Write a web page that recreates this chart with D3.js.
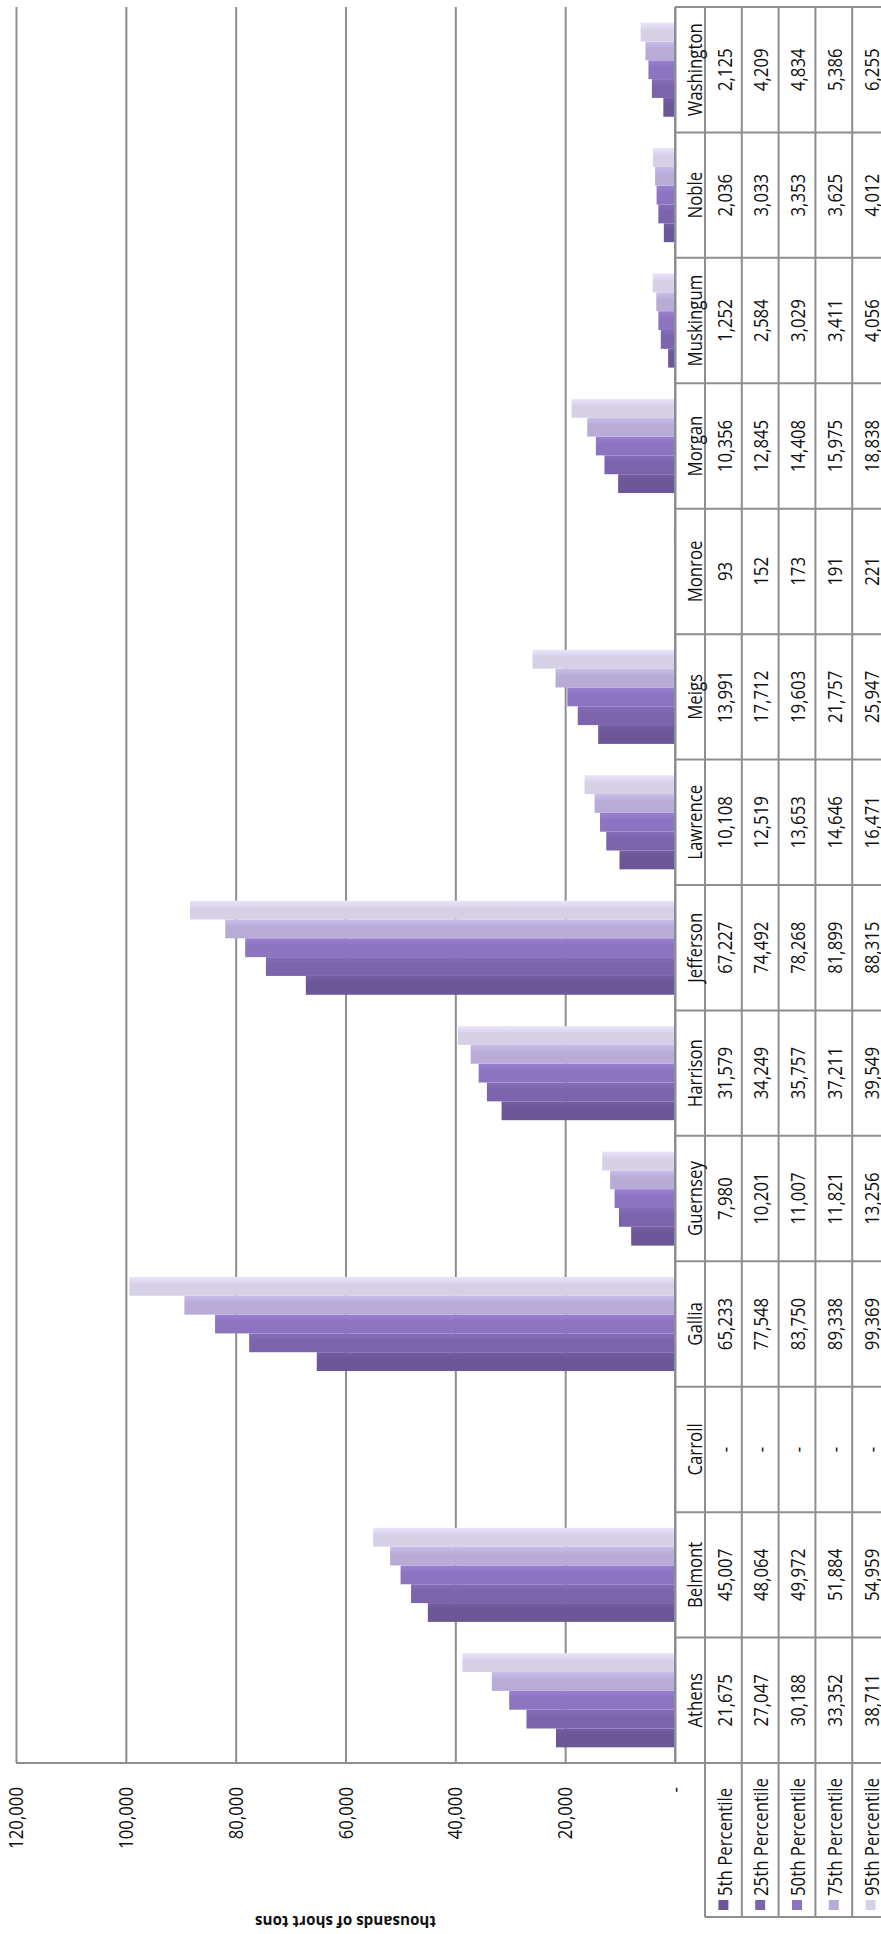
<!DOCTYPE html>
<html>
<head>
<meta charset="utf-8">
<script src="https://cdn.jsdelivr.net/npm/d3@7"></script>
<style>
  body { margin: 0; background: #fff; }
  svg { display: block; }
</style>
</head>
<body>
<div id="chart"></div>
<script>
// County coal estimates, thousands of short tons
const categories = ['Athens', 'Belmont', 'Carroll', 'Gallia', 'Guernsey', 'Harrison', 'Jefferson',
  'Lawrence', 'Meigs', 'Monroe', 'Morgan', 'Muskingum', 'Noble', 'Washington'];
const seriesNames = ['5th Percentile', '25th Percentile', '50th Percentile', '75th Percentile', '95th Percentile'];

const p5  = [21675, 45007, null, 65233, 7980, 31579, 67227, 10108, 13991, 93, 10356, 1252, 2036, 2125];
const p25 = [27047, 48064, null, 77548, 10201, 34249, 74492, 12519, 17712, 152, 12845, 2584, 3033, 4209];
const p50 = [30188, 49972, null, 83750, 11007, 35757, 78268, 13653, 19603, 173, 14408, 3029, 3353, 4834];
const p75 = [33352, 51884, null, 89338, 11821, 37211, 81899, 14646, 21757, 191, 15975, 3411, 3625, 5386];
const p95 = [38711, 54959, null, 99369, 13256, 39549, 88315, 16471, 25947, 221, 18838, 4056, 4012, 6255];
const seriesValues = [p5, p25, p50, p75, p95];

const yTickValues = [0, 20000, 40000, 60000, 80000, 100000, 120000];
const axisTitle = 'thousands of short tons';

const seriesColors = ['#6b5697', '#7b64ab', '#8c74c1', '#b8acd7', '#d6d0e7'];
const gridColor = '#8e8e8e';
const font = "'Open Sans', sans-serif";
const textColor = '#111';
const textSize = 16.8;
const stretch = 'scale(1,1.22)'; // the source picture has tall-looking type

// The chart is laid out landscape, then turned a quarter turn counter-clockwise
const pageW = 881, pageH = 1934;

const svg = d3.select('#chart').append('svg')
  .attr('width', pageW)
  .attr('height', pageH);

const g = svg.append('g')
  .attr('transform', `translate(0,${pageH}) rotate(-90)`)
  .attr('font-family', font);

const plot = { left: 171, right: 1927, top: 16, bottom: 675 };

const x = d3.scaleBand()
  .domain(categories)
  .range([plot.left, plot.right]);

const xs = d3.scaleBand()
  .domain(seriesNames)
  .range([x.bandwidth() * 0.125, x.bandwidth() * 0.875]);

const y = d3.scaleLinear()
  .domain([0, 120000])
  .range([plot.bottom, plot.top]);

// gradients for the bars
const defs = svg.append('defs');
seriesColors.forEach((c, i) => {
  const grad = defs.append('linearGradient')
    .attr('id', 'grad' + i)
    .attr('x1', 0).attr('x2', 1).attr('y1', 0).attr('y2', 0);
  grad.append('stop').attr('offset', 0).attr('stop-color', c);
  grad.append('stop').attr('offset', 0.6).attr('stop-color', c);
  grad.append('stop').attr('offset', 1).attr('stop-color', d3.color(c).brighter(0.25));
});

// value axis + gridlines
const yAxis = d3.axisLeft(y)
  .tickValues(yTickValues)
  .tickSizeInner(-(plot.right - plot.left))
  .tickSizeOuter(0)
  .tickPadding(24)
  .tickFormat(d => d === 0 ? '-' : d3.format(',')(d));

g.append('g')
  .attr('transform', `translate(${plot.left},0)`)
  .call(yAxis)
  .call(a => {
    a.attr('font-family', font).attr('font-size', textSize);
    a.select('.domain').remove();
    a.selectAll('line').attr('stroke', gridColor).attr('stroke-width', 2);
    a.selectAll('text').attr('fill', textColor).attr('transform', stretch);
  });

// axis title
g.append('text')
  .attr('transform', `translate(12,${(plot.top + plot.bottom) / 2}) rotate(-90)`)
  .attr('text-anchor', 'middle')
  .attr('dominant-baseline', 'central')
  .attr('font-size', 15.2)
  .attr('font-weight', 'bold')
  .attr('fill', textColor)
  .text(axisTitle);

// bars
const barData = [];
seriesValues.forEach((vals, si) => {
  vals.forEach((v, ci) => {
    if (v != null) barData.push({ cat: categories[ci], series: seriesNames[si], si, v });
  });
});

g.append('g').selectAll('rect')
  .data(barData)
  .join('rect')
  .attr('x', d => x(d.cat) + xs(d.series))
  .attr('width', xs.bandwidth())
  .attr('y', d => y(d.v))
  .attr('height', d => y(0) - y(d.v))
  .attr('fill', d => `url(#grad${d.si})`);

// data table
const headerH = 30;
const rowH = 36.8;
const legendLeft = 17;
const rowEdges = [plot.bottom, plot.bottom + headerH];
seriesNames.forEach((s, i) => rowEdges.push(plot.bottom + headerH + rowH * (i + 1)));

const table = g.append('g');

table.selectAll('line.h')
  .data(rowEdges)
  .join('line')
  .attr('class', 'h')
  .attr('x1', (d, i) => i === 0 ? plot.left : legendLeft)
  .attr('x2', plot.right)
  .attr('y1', d => d)
  .attr('y2', d => d)
  .attr('stroke', gridColor)
  .attr('stroke-width', 2);

const colEdges = categories.map(c => x(c)).concat([x(categories[categories.length - 1]) + x.bandwidth()]);
table.selectAll('line.v')
  .data(colEdges)
  .join('line')
  .attr('class', 'v')
  .attr('x1', d => d)
  .attr('x2', d => d)
  .attr('y1', (d, i) => i === 0 ? plot.top : plot.bottom)
  .attr('y2', rowEdges[rowEdges.length - 1])
  .attr('stroke', gridColor)
  .attr('stroke-width', 2);

table.append('line')
  .attr('x1', legendLeft).attr('x2', legendLeft)
  .attr('y1', rowEdges[1]).attr('y2', rowEdges[rowEdges.length - 1])
  .attr('stroke', gridColor)
  .attr('stroke-width', 2);

// category names
table.selectAll('text.cat')
  .data(categories)
  .join('text')
  .attr('class', 'cat')
  .attr('transform', d => `translate(${x(d) + x.bandwidth() / 2},${plot.bottom + 19}) ${stretch}`)
  .attr('text-anchor', 'middle')
  .attr('dominant-baseline', 'central')
  .attr('font-size', textSize)
  .attr('fill', textColor)
  .text(d => d);

// values
const cellData = [];
seriesValues.forEach((vals, si) => {
  vals.forEach((v, ci) => cellData.push({ cat: categories[ci], si, v }));
});
table.selectAll('text.val')
  .data(cellData)
  .join('text')
  .attr('class', 'val')
  .attr('transform', d => `translate(${x(d.cat) + x.bandwidth() / 2},${rowEdges[d.si + 1] + rowH / 2}) ${stretch}`)
  .attr('text-anchor', 'middle')
  .attr('dominant-baseline', 'central')
  .attr('font-size', textSize)
  .attr('fill', textColor)
  .text(d => d.v == null ? '-' : d3.format(',')(d.v));

// legend column
const legend = table.selectAll('g.leg')
  .data(seriesNames)
  .join('g')
  .attr('class', 'leg')
  .attr('transform', (d, i) => `translate(0,${rowEdges[i + 1] + rowH / 2})`);

legend.append('rect')
  .attr('x', 24)
  .attr('y', -5)
  .attr('width', 10)
  .attr('height', 10)
  .attr('fill', (d, i) => seriesColors[i]);

legend.append('text')
  .attr('transform', `translate(38,0) ${stretch}`)
  .attr('dominant-baseline', 'central')
  .attr('font-size', textSize)
  .attr('fill', textColor)
  .text(d => d);
</script>
</body>
</html>
